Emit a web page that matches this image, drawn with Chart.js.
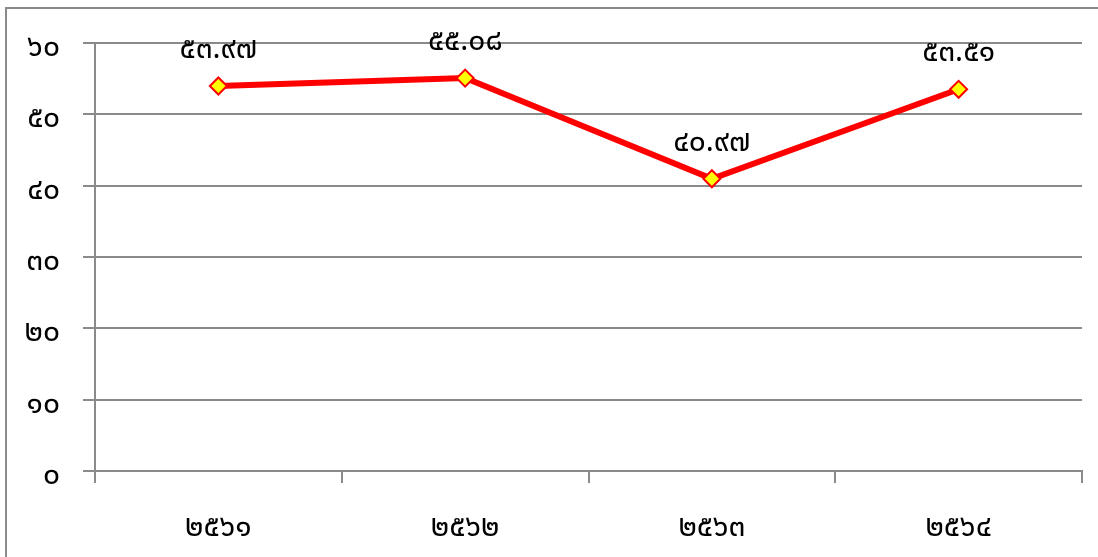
<!DOCTYPE html>
<html>
<head>
<meta charset="utf-8">
<script src="https://cdn.jsdelivr.net/npm/chart.js@4"></script>
<style>
  html, body { margin: 0; padding: 0; background: #fff; }
  #wrap { position: relative; width: 1098px; height: 557px; }
  #frame { position: absolute; left: 5px; top: 7px; right: -2px; bottom: -2px; border-left: 2px solid #8a8a8a; border-top: 2px solid #8a8a8a; pointer-events: none; }
  canvas { position: absolute; left: 0; top: 0; }
</style>
</head>
<body>
<div id="wrap">
  <canvas id="c" width="1098" height="557"></canvas>
  <div id="frame"></div>
</div>
<script>
const categories = ['๒๕๖๑', '๒๕๖๒', '๒๕๖๓', '๒๕๖๔'];
const values = [53.97, 55.08, 40.97, 53.51];
const valueLabels = ['๕๓.๙๗', '๕๕.๐๘', '๔๐.๙๗', '๕๓.๕๑'];
const yTickValues = [0, 10, 20, 30, 40, 50, 60];
const yTickLabels = ['๐', '๑๐', '๒๐', '๓๐', '๔๐', '๕๐', '๖๐'];

const FONT = "'Noto Sans Thai', 'Leelawadee UI', Tahoma, Loma, Garuda, Waree, 'Noto Sans', sans-serif";
const GRID = '#8a8a8a';
const FS = 30;

const dataLabelPlugin = {
  id: 'dataLabels',
  afterDatasetsDraw(chart) {
    const ctx = chart.ctx;
    const meta = chart.getDatasetMeta(0);
    ctx.save();
    ctx.font = FS + 'px ' + FONT;
    ctx.fillStyle = '#000';
    ctx.textAlign = 'center';
    ctx.textBaseline = 'middle';
    meta.data.forEach((pt, i) => {
      ctx.fillText(valueLabels[i], pt.x, pt.y - 34);
    });
    ctx.restore();
  }
};

new Chart(document.getElementById('c'), {
  type: 'line',
  data: {
    labels: categories,
    datasets: [{
      data: values,
      borderColor: '#ff0000',
      borderWidth: 6,
      backgroundColor: '#ffff00',
      pointStyle: 'rectRot',
      pointRadius: 8.5,
      pointHoverRadius: 8.5,
      pointBorderWidth: 2,
      pointBorderColor: '#ff0000',
      pointBackgroundColor: '#ffff00',
      tension: 0,
      fill: false
    }]
  },
  options: {
    responsive: false,
    animation: false,
    events: [],
    layout: { padding: { top: 43, right: 16, left: 0, bottom: 0 } },
    plugins: { legend: { display: false }, tooltip: { enabled: false } },
    scales: {
      x: {
        offset: true,
        grid: { display: true, drawOnChartArea: false, drawTicks: true, tickLength: 12, offset: true, color: GRID, lineWidth: 2 },
        border: { display: true, color: GRID, width: 2 },
        ticks: { font: { family: FONT, size: FS }, color: '#000', padding: 29, maxRotation: 0 },
        afterFit(scale) { scale.height = 86; }
      },
      y: {
        min: 0, max: 60,
        afterBuildTicks(scale) { scale.ticks = yTickValues.map(v => ({ value: v })); },
        grid: { color: GRID, lineWidth: 2, tickLength: 12, drawTicks: true },
        border: { display: true, color: GRID, width: 2 },
        ticks: {
          font: { family: FONT, size: FS }, color: '#000', padding: 23, labelOffset: 7,
          callback(v) { const i = yTickValues.indexOf(v); return i >= 0 ? yTickLabels[i] : ''; }
        },
        afterFit(scale) { scale.width = 95; }
      }
    }
  },
  plugins: [dataLabelPlugin]
});
</script>
</body>
</html>
